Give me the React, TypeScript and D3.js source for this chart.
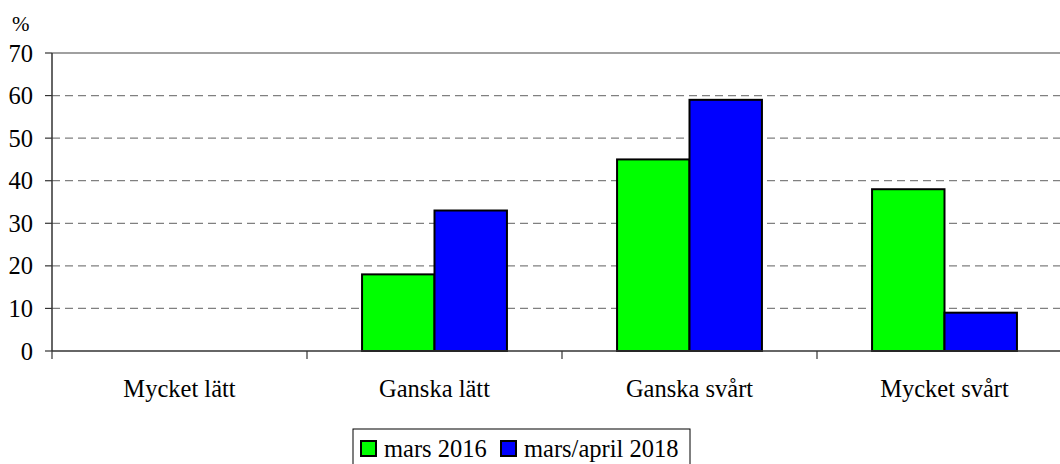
import React from "react";
import { scaleBand, scaleLinear } from "d3";

// data
const categories = ["Mycket lätt", "Ganska lätt", "Ganska svårt", "Mycket svårt"];
const seriesNames = ["mars 2016", "mars/april 2018"];
const mars2016 = [0, 18, 45, 38];
const marsApril2018 = [0, 33, 59, 9];
const yTicks = [0, 10, 20, 30, 40, 50, 60, 70];

const colors = ["#00ff00", "#0000ff"];
const font = "Liberation Serif, Times New Roman, Times, serif";
const fs = 24.5;

const W = 1060;
const H = 464;
const plot = { left: 52, right: 1072, top: 53, bottom: 351 };

export default function App() {
  const x = scaleBand<string>().domain(categories).range([plot.left, plot.right]).paddingInner(0).paddingOuter(0);
  const inner = scaleBand<string>().domain(seriesNames).range([0, x.bandwidth()]).paddingInner(0).paddingOuter(0.76);
  const y = scaleLinear().domain([0, 70]).range([plot.bottom, plot.top]);

  const values = [mars2016, marsApril2018];
  const boundaries = categories.map((c) => x(c)!).concat([plot.right]);

  return (
    <div style={{ position: "absolute", left: 0, top: 0 }}>
      <svg width={W} height={H} style={{ display: "block", background: "#fff" }}>
        {/* gridlines */}
        {yTicks.filter((t) => t > 0 && t < 70).map((t) => (
          <line key={t} x1={plot.left} x2={plot.right} y1={y(t)} y2={y(t)}
            stroke="#808080" strokeWidth={1.3} strokeDasharray="8,5" />
        ))}
        <line x1={plot.left} x2={plot.right} y1={y(70)} y2={y(70)} stroke="#808080" strokeWidth={1.5} />

        {/* bars */}
        {values.map((vals, si) =>
          categories.map((c, ci) => {
            const v = vals[ci];
            if (!v) return null;
            const bx = x(c)! + inner(seriesNames[si])!;
            return (
              <rect key={si + "-" + ci} x={bx} y={y(v)} width={inner.bandwidth()} height={y(0) - y(v)}
                fill={colors[si]} stroke="#000" strokeWidth={2} />
            );
          })
        )}

        {/* y axis */}
        <line x1={plot.left} x2={plot.left} y1={plot.top} y2={plot.bottom} stroke="#333" strokeWidth={1.5} />
        {yTicks.map((t) => (
          <g key={t}>
            <line x1={plot.left - 7} x2={plot.left} y1={y(t)} y2={y(t)} stroke="#333" strokeWidth={1.2} />
            <text x={33} y={y(t) + 8.5} textAnchor="end" fontSize={fs} fontFamily={font} fill="#000">{t}</text>
          </g>
        ))}
        <text x={12} y={31} fontSize={21} fontFamily={font} fill="#000">%</text>

        {/* x axis */}
        <line x1={plot.left} x2={plot.right} y1={plot.bottom} y2={plot.bottom} stroke="#333" strokeWidth={1.5} />
        {boundaries.map((b, i) => (
          <line key={i} x1={b} x2={b} y1={plot.bottom} y2={plot.bottom + 8} stroke="#333" strokeWidth={1.2} />
        ))}
        {categories.map((c) => (
          <text key={c} x={x(c)! + x.bandwidth() / 2} y={397} textAnchor="middle" fontSize={fs}
            fontFamily={font} fill="#000">{c}</text>
        ))}

        {/* legend */}
        <rect x={353} y={429} width={337} height={50} fill="#fff" stroke="#000" strokeWidth={1} />
        <rect x={361} y={441} width={15} height={15} fill={colors[0]} stroke="#000" strokeWidth={2} />
        <text x={384} y={457} fontSize={fs} fontFamily={font} fill="#000">{seriesNames[0]}</text>
        <rect x={501} y={441} width={15} height={15} fill={colors[1]} stroke="#000" strokeWidth={2} />
        <text x={524} y={457} fontSize={fs} fontFamily={font} fill="#000">{seriesNames[1]}</text>
      </svg>
    </div>
  );
}
